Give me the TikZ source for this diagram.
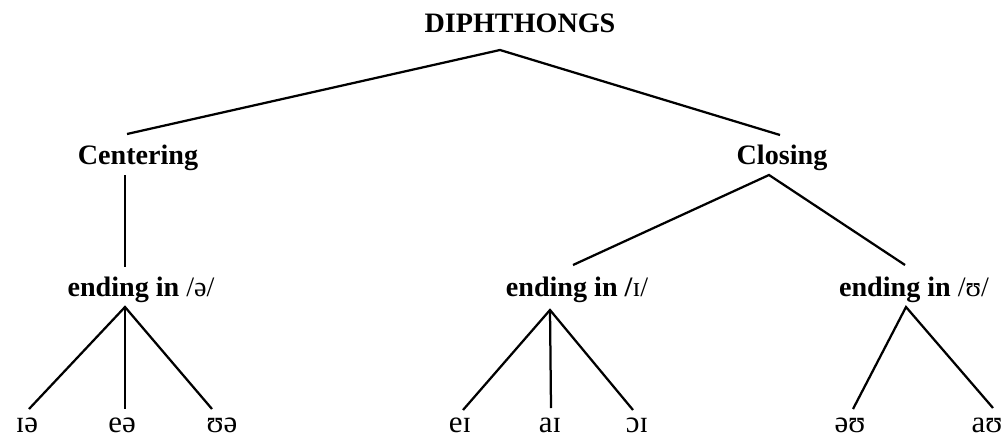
\documentclass[tikz,border=0pt]{standalone}
\usepackage{fontspec}
\setmainfont{Liberation Serif}
\usepackage{tikz}
\usetikzlibrary{positioning}

\tikzset{
  head/.style={anchor=base, inner sep=0pt, font=\fontsize{20}{24}\selectfont\bfseries},
  vowel/.style={anchor=base, inner sep=0pt, font=\fontsize{22}{26}\selectfont},
  branch/.style={line width=1.6pt}
}

\begin{document}
\begin{tikzpicture}[x=0.025cm, y=-0.025cm]
  \useasboundingbox (0,0) rectangle (1003,439);

  % labels
  \node[head] (diph) at (520,33) {DIPHTHONGS};
  \node[head] (cent) at (138,164) {Centering};
  \node[head] (clos) at (782,164) {Closing};
  \node[head] (endschwa) at (141,296) {ending in \mdseries/ə/};
  \node[head] (endi) at (577,296) {ending in /\mdseries ɪ/};
  \node[head] (endu) at (914,296) {ending in \mdseries/ʊ/};

  \node[vowel] (ia) at (27,432) {ɪə};
  \node[vowel] (ea) at (122,432) {eə};
  \node[vowel] (ua) at (222,432) {ʊə};
  \node[vowel] (ei) at (460,432) {eɪ};
  \node[vowel] (ai) at (550,432) {aɪ};
  \node[vowel] (oi) at (637,432) {ɔɪ};
  \node[vowel] (ou) at (850,432) {əʊ};
  \node[vowel] (au) at (987,432) {aʊ};

  % branch ends
  \coordinate (diph-f) at (500,50);
  \coordinate (cent-t) at (127,134);
  \coordinate (clos-t) at (780,135);
  \coordinate (cent-f) at (125,175);
  \coordinate (clos-f) at (769,175);
  \coordinate (endschwa-t) at (125,267);
  \coordinate (endi-t) at (573,265);
  \coordinate (endu-t) at (905,265);
  \coordinate (endschwa-f) at (125,307);
  \coordinate (endi-f) at (550,310);
  \coordinate (endu-f) at (906,307);
  \coordinate (ia-t) at (29,409);
  \coordinate (ea-t) at (125,409);
  \coordinate (ua-t) at (212,409);
  \coordinate (ei-t) at (463,410);
  \coordinate (ai-t) at (551,408);
  \coordinate (oi-t) at (633,410);
  \coordinate (ou-t) at (853,409);
  \coordinate (au-t) at (993,408);

  \draw[branch] (cent-t) -- (diph-f) -- (clos-t);
  \draw[branch] (cent-f) -- (endschwa-t);
  \draw[branch] (endi-t) -- (clos-f) -- (endu-t);
  \draw[branch] (ia-t) -- (endschwa-f) -- (ua-t);
  \draw[branch] (endschwa-f) -- (ea-t);
  \draw[branch] (ei-t) -- (endi-f) -- (oi-t);
  \draw[branch] (endi-f) -- (ai-t);
  \draw[branch] (ou-t) -- (endu-f) -- (au-t);
\end{tikzpicture}
\end{document}
